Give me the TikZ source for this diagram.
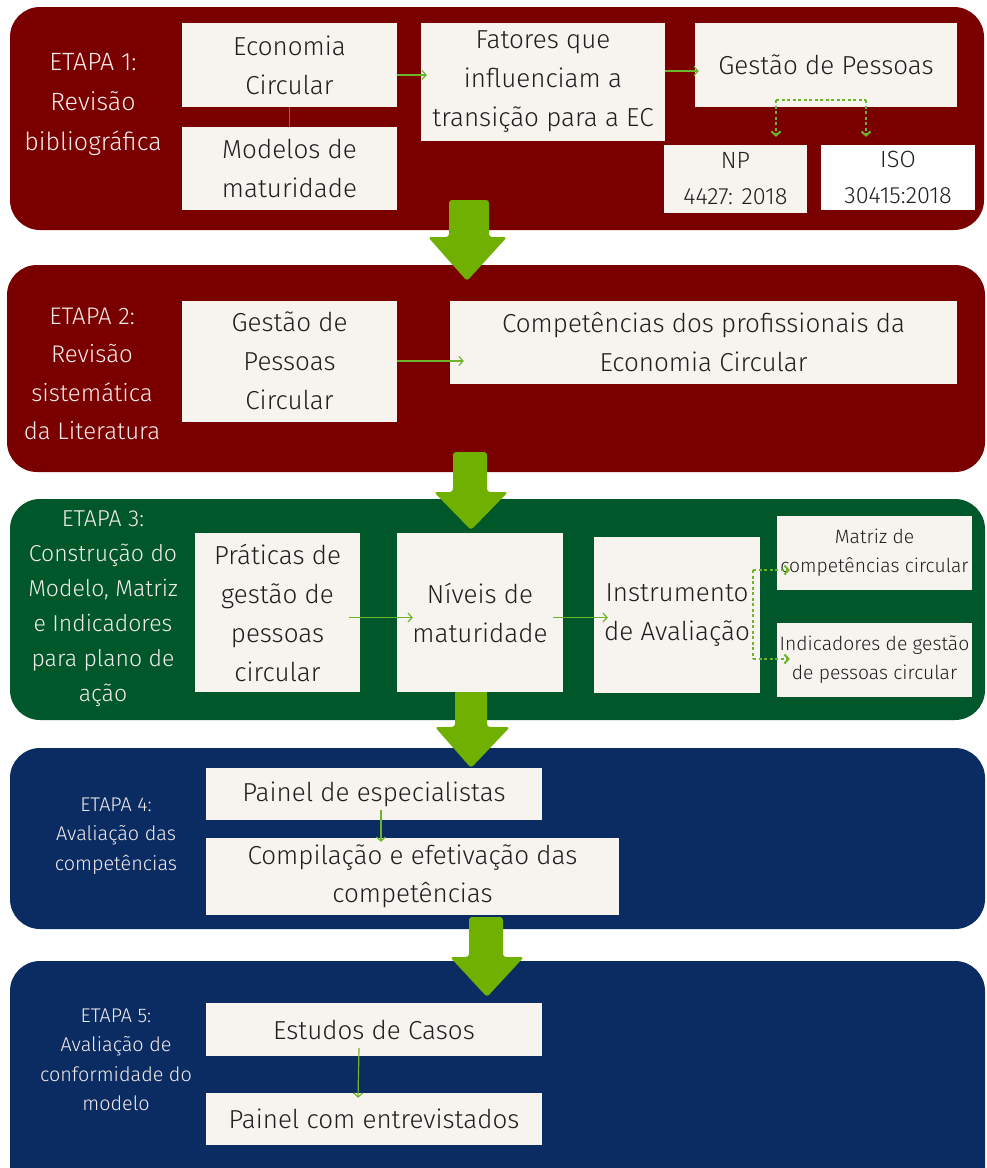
\documentclass[tikz,border=0pt]{standalone}
\usepackage{fontspec}
\setmainfont{Fira Sans Light}
\usetikzlibrary{arrows.meta}
\definecolor{wine}{HTML}{7A0000}
\definecolor{forest}{HTML}{00582A}
\definecolor{navy}{HTML}{0A2C62}
\definecolor{paper}{HTML}{F7F3EF}
\definecolor{leaf}{HTML}{70B000}
\definecolor{vine}{HTML}{6CB52B}
\definecolor{olive}{HTML}{5E8A1E}
\definecolor{labeltext}{HTML}{F4ECEC}
\newcommand\fs[2]{\fontsize{#1}{#2}\selectfont}
\tikzset{
  band/.style={rounded corners=30pt},
  box/.style={fill=paper, inner sep=0pt, align=center, text=black!88, font=\fs{26}{39}},
  smallbox/.style={box, font=\fs{23.5}{36}},
  tinybox/.style={box, font=\fs{19.3}{29}},
  stagelabel/.style={align=center, text=labeltext, inner sep=0pt},
  blockarrow/.style={fill=leaf, rounded corners=3pt},
  conn/.style={draw=vine, line width=1.2pt, -{Straight Barb[length=4pt,width=9pt]}},
  dots/.style={draw=vine, line width=2pt, dash pattern=on 3pt off 2.5pt},
  dotstip/.style={dots, -{Straight Barb[length=4pt,width=9pt]}}
}
\begin{document}
\begin{tikzpicture}[x=1pt,y=-1pt]
\useasboundingbox (0,0) rectangle (986,1168);
\fill[white] (0,0) rectangle (986,1168);

% stage bands
\fill[wine, band] (10,7) rectangle (984,230);
\fill[wine, band] (7,265) rectangle (985,472);
\fill[forest, band] (10,499) rectangle (985,720);
\fill[navy, band] (10,748) rectangle (985,929);
\fill[navy, band] (10,961) rectangle (985,1200);

% block arrows between stages
\fill[blockarrow] (449,200) -- (489,200) -- (489,237) -- (507,237) -- (467,281) -- (428,237) -- (449,237) -- cycle;
\fill[blockarrow] (453,452) -- (487,452) -- (487,492) -- (508,492) -- (471,530) -- (434,492) -- (453,492) -- cycle;
\fill[blockarrow] (455,688) -- (487,688) -- (487,727) -- (510,727) -- (471,768) -- (435,727) -- (455,727) -- cycle;
\fill[blockarrow] (469,917) -- (503,917) -- (503,957) -- (524,957) -- (487,997) -- (450,957) -- (469,957) -- cycle;

% ETAPA 1
\node[stagelabel, font=\fs{25}{40}] (l1) at (93,104) {ETAPA 1:\\Revisão\\bibliográfica};
\node[box, minimum width=215pt, minimum height=84pt] (eco) at (289.5,65) {Economia\\Circular};
\node[box, minimum width=215pt, minimum height=83pt] (mod) at (289.5,168.5) {Modelos de\\maturidade};
\node[box, minimum width=244pt, minimum height=118pt] (fat) at (543,82) {Fatores que\\influenciam a\\transição para a EC};
\node[box, minimum width=262pt, minimum height=84pt] (gp) at (826,65) {Gestão de Pessoas};
\node[smallbox, minimum width=143pt, minimum height=68pt] (np) at (735.5,179) {NP\\4427: 2018};
\node[smallbox, fill=white, minimum width=154pt, minimum height=65pt] (iso) at (898,177.5) {ISO\\30415:2018};

\draw[conn] ([yshift=-10pt]eco.east) -- ([yshift=-10pt,xshift=6pt]eco.east -| fat.west);
\draw[conn, draw=olive, -] (eco.south) -- (mod.north);
\draw[conn] ([yshift=11pt]fat.east) -- ([yshift=11pt,xshift=4pt]fat.east -| gp.west);
\coordinate (gpL) at (776,100);
\coordinate (gpR) at (866,100);
\draw[dots] (gpL) -- (gpR);
\draw[dotstip, shorten >=8pt] (gpL) -- (gpL |- np.north);
\draw[dotstip, shorten >=8pt] (gpR) -- (gpR |- iso.north);

% ETAPA 2
\node[stagelabel, font=\fs{24}{38.5}] (l2) at (92,374) {ETAPA 2:\\Revisão\\sistemática\\da Literatura};
\node[box, minimum width=215pt, minimum height=121pt] (gpc) at (289.5,361) {Gestão de\\Pessoas\\Circular};
\node[box, minimum width=507pt, minimum height=83pt] (comp) at (703.5,342.5) {Competências dos profissionais da\\Economia Circular};
\draw[conn] (gpc.east) -- ([xshift=14pt]gpc.east -| comp.west);

% ETAPA 3
\node[stagelabel, font=\fs{23}{35}] (l3) at (103,609) {ETAPA 3:\\Construção do\\Modelo, Matriz\\e Indicadores\\para plano de\\ação};
\node[box, minimum width=165pt, minimum height=159pt] (prat) at (277.5,612.5) {Práticas de\\gestão de\\pessoas\\circular};
\node[box, minimum width=166pt, minimum height=159pt] (niv) at (480,612.5) {Níveis de\\maturidade};
\node[box, minimum width=166pt, minimum height=156pt] (inst) at (677,615) {Instrumento\\de Avaliação};
\node[tinybox, minimum width=195pt, minimum height=74pt] (mat) at (874.5,553) {Matriz de\\competências circular};
\node[tinybox, minimum width=195pt, minimum height=74pt] (ind) at (874.5,660) {Indicadores de gestão\\de pessoas circular};

\draw[conn] ([xshift=-11pt,yshift=-5pt]prat.east) -- ([xshift=16pt,yshift=-5pt]prat.east -| niv.west);
\draw[conn] ([xshift=-10pt,yshift=-5pt]niv.east) -- ([xshift=14pt,yshift=-5pt]niv.east -| inst.west);
\coordinate (iT) at (753,570);
\coordinate (iB) at (753,659);
\draw[dots] (iT) -- (iB);
\draw[dotstip] (iT) -- ([xshift=13pt]iT -| mat.west);
\draw[dotstip] (iB) -- ([xshift=13pt]iB -| ind.west);

% ETAPA 4
\node[stagelabel, font=\fs{19.8}{29.5}] (l4) at (116,836) {ETAPA 4:\\Avaliação das\\competências};
\node[box, minimum width=336pt, minimum height=52pt] (pain) at (374,794) {Painel de especialistas};
\node[box, minimum width=413pt, minimum height=77pt, font=\fs{26}{38}] (cmp) at (412.5,876.5) {Compilação e efetivação das\\competências};
\draw[conn] ([xshift=7pt,yshift=10pt]pain.south) -- ([xshift=7pt,yshift=-4pt]pain.south |- cmp.north);

% ETAPA 5
\node[stagelabel, font=\fs{19.8}{29.5}] (l5) at (116,1060) {ETAPA 5:\\Avaliação de\\conformidade do\\modelo};
\node[box, minimum width=336pt, minimum height=53pt] (est) at (374,1029.5) {Estudos de Casos};
\node[box, minimum width=336pt, minimum height=52pt] (ent) at (374,1119) {Painel com entrevistados};
\draw[conn] ([xshift=-15pt,yshift=8pt]est.south) -- ([xshift=-16pt,yshift=-5pt]est.south |- ent.north);
\end{tikzpicture}
\end{document}
